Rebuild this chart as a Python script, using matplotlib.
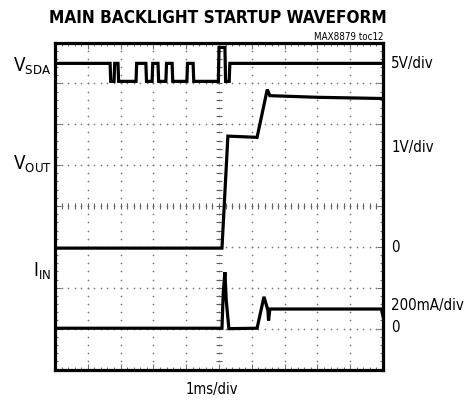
import numpy as np
import matplotlib
matplotlib.use("Agg")
import matplotlib.pyplot as plt
from matplotlib import font_manager

# the scope plots use a condensed sans; take one if it is installed
narrow = [f for f in font_manager.fontManager.ttflist
          if ('Narrow' in f.name or 'Condensed' in f.name
              or f.stretch in ('condensed', 'semi-condensed', 'extra-condensed'))
          and 'Mono' not in f.name and 'Serif' not in f.name]
if narrow:
    fam, stretch = narrow[0].name, narrow[0].stretch
else:
    fam, stretch = 'Roboto', 'normal'
plt.rcParams['font.family'] = [fam, 'DejaVu Sans']
plt.rcParams['font.stretch'] = stretch
plt.rcParams['mathtext.fontset'] = 'custom'
plt.rcParams['mathtext.rm'] = fam

# traces, x and y in divisions (10 x 8 grid)
vsda_x = [0, 1.68, 1.70, 1.80, 1.82, 1.92, 1.94, 2.47, 2.49, 2.77, 2.79, 2.96, 2.98,
          3.14, 3.16, 3.38, 3.40, 3.57, 3.59, 4.02, 4.04, 4.21, 4.23, 4.98, 5.00,
          5.18, 5.20, 5.31, 5.33, 10]
vsda_y = [7.49, 7.49, 7.05, 7.05, 7.49, 7.49, 7.05, 7.05, 7.49, 7.49, 7.05, 7.05, 7.49,
          7.49, 7.05, 7.05, 7.49, 7.49, 7.05, 7.05, 7.49, 7.49, 7.05, 7.05, 7.88,
          7.88, 7.05, 7.05, 7.49, 7.49]

vout_x = [0, 5.09, 5.27, 6.16, 6.47, 6.55, 8.0, 10]
vout_y = [2.97, 2.97, 5.71, 5.68, 6.85, 6.70, 6.66, 6.63]

iin_x = [0, 5.09, 5.13, 5.18, 5.22, 5.30, 6.16, 6.37, 6.49, 6.51, 6.55, 9.95, 10]
iin_y = [1.01, 1.01, 1.9, 2.38, 1.7, 1.0, 1.01, 1.78, 1.45, 1.2, 1.48, 1.48, 1.3]

left_labels = [r'$\mathregular{V_{SDA}}$', r'$\mathregular{V_{OUT}}$', r'$\mathregular{I_{IN}}$']
left_label_y = [7.45, 5.05, 2.42]
right_labels = ['5V/div', '1V/div', '0', '200mA/div', '0']
right_label_y = [7.5, 5.45, 3.0, 1.6, 1.05]

fig = plt.figure(figsize=(4.66, 4.06), dpi=100)
ax = fig.add_axes([0.118, 0.0874, 0.704, 0.8054])
ax.set_xlim(0, 10)
ax.set_ylim(0, 8)

# dotted graticule
minor_x = np.arange(0, 10.01, 0.2)
minor_y = np.arange(0, 8.01, 0.2)
for gx in range(1, 10):
    ax.scatter(np.full_like(minor_y, gx), minor_y, s=1.5, color='#7a7a7a', lw=0, zorder=1)
for gy in range(1, 8):
    ax.scatter(minor_x, np.full_like(minor_x, gy), s=1.5, color='#7a7a7a', lw=0, zorder=1)
# centre cross with small ticks
ax.scatter(np.full_like(minor_y, 5), minor_y, marker='_', s=14, color='#606060', lw=0.8, zorder=1)
ax.scatter(minor_x, np.full_like(minor_x, 4), marker='|', s=14, color='#606060', lw=0.8, zorder=1)

for xs, ys in [(vsda_x, vsda_y), (vout_x, vout_y), (iin_x, iin_y)]:
    ax.plot(xs, ys, color='black', lw=2.3, solid_joinstyle='miter', zorder=3)

ax.set_xticks(range(11))
ax.set_yticks(range(9))
ax.set_xticks(minor_x, minor=True)
ax.set_yticks(minor_y, minor=True)
ax.tick_params(which='both', direction='in', top=True, right=True,
               labelbottom=False, labelleft=False, color='#707070', width=0.8)
ax.tick_params(which='major', length=4)
ax.tick_params(which='minor', length=2)
for s in ax.spines.values():
    s.set_linewidth(2.3)

small = 1.0 if narrow else 0.88
fig.text(0.468, 0.955, 'MAIN BACKLIGHT STARTUP WAVEFORM', ha='center', va='center',
         fontsize=12.3 * small, fontweight='heavy')
fig.text(0.822, 0.908, 'MAX8879 toc12', ha='right', va='center', fontsize=7)
fig.text(0.455, 0.04, '1ms/div', ha='center', va='center', fontsize=10.5 * small)

for lab, y in zip(left_labels, left_label_y):
    ax.text(-0.1, y, lab, ha='right', va='center', fontsize=13.5 * small)
for lab, y in zip(right_labels, right_label_y):
    ax.text(10.25, y, lab, ha='left', va='center', fontsize=10.8 * small)

fig.savefig('out.png', dpi=100)
